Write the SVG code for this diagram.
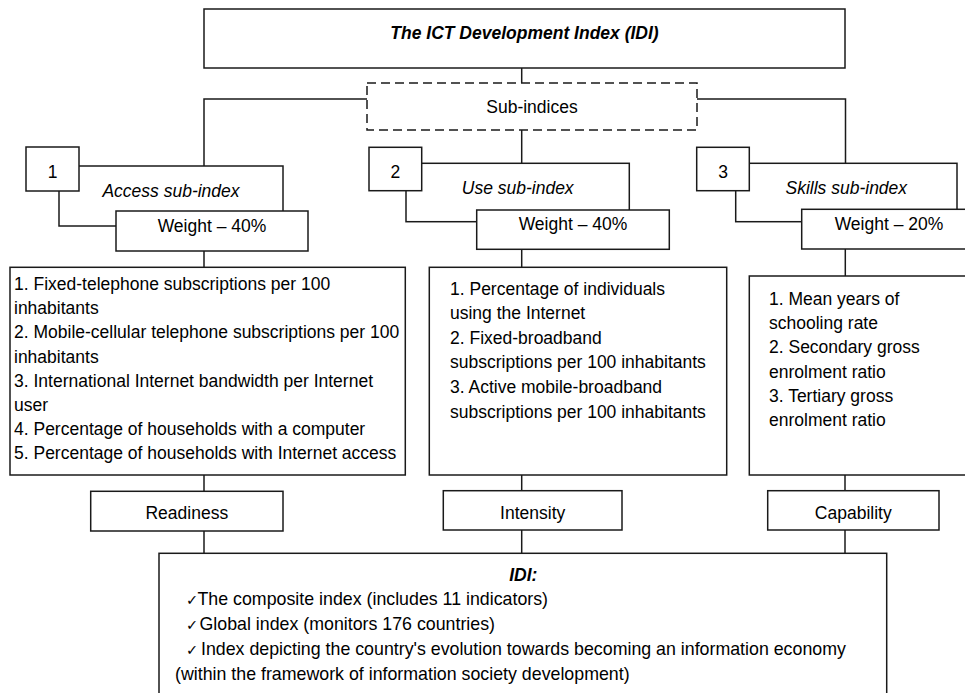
<svg xmlns="http://www.w3.org/2000/svg" width="965" height="693" viewBox="0 0 965 693">
<style>
.box{fill:#fff;stroke:#1a1a1a;stroke-width:1.5}
.dash{fill:#fff;stroke:#1a1a1a;stroke-width:1.5;stroke-dasharray:9 5}
.conn{fill:none;stroke:#1a1a1a;stroke-width:1.5}
text{font-family:"Liberation Sans",Arial,sans-serif;font-size:17.5px;fill:#000}
.c{text-anchor:middle}
.i{font-style:italic}
.bi{font-style:italic;font-weight:bold}
.big{font-size:17.8px}
.chk{font-family:"DejaVu Sans",sans-serif;font-size:14.5px}
</style>
<rect width="965" height="693" fill="#fff"/>
<g id="connectors">
<path class="conn" d="M521.7 68V83"/>
<path class="conn" d="M367 99H204V166"/>
<path class="conn" d="M697 99H845.5V163.3"/>
<path class="conn" d="M521.7 130V163.3"/>
<path class="conn" d="M204 251V267.3"/>
<path class="conn" d="M521.7 249.3V267.3"/>
<path class="conn" d="M845.3 249V276"/>
<path class="conn" d="M204 475V491.3"/>
<path class="conn" d="M521.7 475V490.7"/>
<path class="conn" d="M845 475V490.7"/>
<path class="conn" d="M204 531V553.3"/>
<path class="conn" d="M521.7 530V553.3"/>
<path class="conn" d="M845 530V553.3"/>
</g>
<g id="title">
<rect class="box" x="204" y="9" width="641" height="59"/>
<text class="bi c" x="524.5" y="39">The ICT Development Index (IDI)</text>
</g>
<g id="subindices">
<rect class="dash" x="367" y="83" width="330" height="47"/>
<text class="c" x="532" y="112.5">Sub-indices</text>
</g>
<g id="access">
<rect class="box" x="59" y="166" width="224" height="60"/>
<rect class="box" x="26" y="147" width="53" height="44"/>
<text class="c" x="52.5" y="178">1</text>
<text class="i c" x="171" y="196.5">Access sub-index</text>
<rect class="box" x="116" y="211" width="192" height="40"/>
<text class="c" x="212" y="232">Weight – 40%</text>
</g>
<g id="use">
<rect class="box" x="406" y="163.3" width="223.3" height="58.4"/>
<rect class="box" x="369" y="147.3" width="52.7" height="43.4"/>
<text class="c" x="395.3" y="178.3">2</text>
<text class="i c" x="517.7" y="193.5">Use sub-index</text>
<rect class="box" x="476.7" y="210" width="192.6" height="39.3"/>
<text class="c" x="573" y="229.5">Weight – 40%</text>
</g>
<g id="skills">
<rect class="box" x="735.7" y="163.3" width="221.3" height="58.4"/>
<rect class="box" x="696.7" y="147.3" width="52.6" height="43.4"/>
<text class="c" x="723" y="178.3">3</text>
<text class="i c" x="846.3" y="193.5">Skills sub-index</text>
<rect class="box" x="801.7" y="209.3" width="174.3" height="39.7"/>
<text class="c" x="889" y="230">Weight – 20%</text>
</g>
<g id="access-list">
<rect class="box" x="10" y="267.3" width="395.3" height="207.7"/>
<text x="14" y="290">1. Fixed-telephone subscriptions per 100</text>
<text x="14" y="314.2">inhabitants</text>
<text x="14" y="338.4">2. Mobile-cellular telephone subscriptions per 100</text>
<text x="14" y="362.6">inhabitants</text>
<text x="14" y="386.8">3. International Internet bandwidth per Internet</text>
<text x="14" y="411">user</text>
<text x="14" y="435.2">4. Percentage of households with a computer</text>
<text x="14" y="459.4">5. Percentage of households with Internet access</text>
</g>
<g id="use-list">
<rect class="box" x="429.3" y="267.3" width="297.4" height="207.7"/>
<text x="450" y="294.5">1. Percentage of individuals</text>
<text x="450" y="319.1">using the Internet</text>
<text x="450" y="343.7">2. Fixed-broadband</text>
<text x="450" y="368.3">subscriptions per 100 inhabitants</text>
<text x="450" y="392.9">3. Active mobile-broadband</text>
<text x="450" y="417.5">subscriptions per 100 inhabitants</text>
</g>
<g id="skills-list">
<rect class="box" x="749.3" y="276" width="230" height="199"/>
<text x="769" y="305">1. Mean years of</text>
<text x="769" y="329.2">schooling rate</text>
<text x="769" y="353.4">2. Secondary gross</text>
<text x="769" y="377.6">enrolment ratio</text>
<text x="769" y="401.8">3. Tertiary gross</text>
<text x="769" y="426">enrolment ratio</text>
</g>
<g id="readiness">
<rect class="box" x="90.7" y="491.3" width="192.3" height="39.7"/>
<text class="c" x="186.8" y="518.5">Readiness</text>
</g>
<g id="intensity">
<rect class="box" x="443.3" y="490.7" width="178.7" height="39.3"/>
<text class="c" x="532.7" y="519">Intensity</text>
</g>
<g id="capability">
<rect class="box" x="767.7" y="490.7" width="171.3" height="39.3"/>
<text class="c" x="853.3" y="519">Capability</text>
</g>
<g id="idi">
<rect class="box" x="159" y="553.3" width="727.7" height="146"/>
<text class="bi c" x="523.3" y="580.5">IDI:</text>
<text class="big" y="605"><tspan class="chk" x="186">✓</tspan><tspan x="197.5">The composite index (includes 11 indicators)</tspan></text>
<text class="big" y="630"><tspan class="chk" x="186">✓</tspan><tspan x="199.5">Global index (monitors 176 countries)</tspan></text>
<text class="big" y="655"><tspan class="chk" x="186">✓</tspan><tspan x="201">Index depicting the country's evolution towards becoming an information economy</tspan></text>
<text class="big" x="175" y="680">(within the framework of information society development)</text>
</g>
</svg>
